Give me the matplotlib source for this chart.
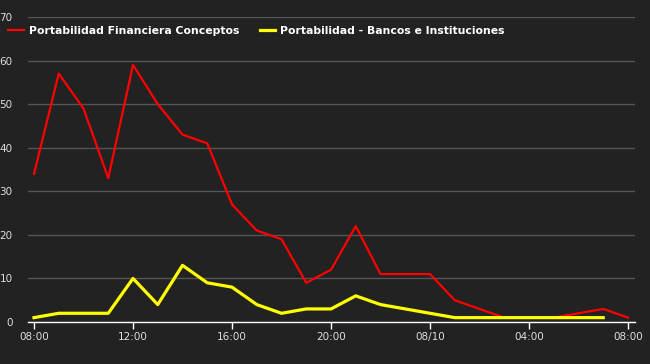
import numpy as np
import matplotlib.pyplot as plt

# hourly samples, 08:00 -> 08:00 next day
hours = np.arange(25)
conceptos = [34, 57, 49, 33, 59, 50, 43, 41, 27, 21, 19, 9, 12, 22, 11, 11, 11, 5, 3, 1, 1, 1, 2, 3, 1]
bancos = [1, 2, 2, 2, 10, 4, 13, 9, 8, 4, 2, 3, 3, 6, 4, 3, 2, 1, 1, 1, 1, 1, 1, 1]
tick_pos = [0, 4, 8, 12, 16, 20, 24]
tick_lbl = ["08:00", "12:00", "16:00", "20:00", "08/10", "04:00", "08:00"]
names = ["Portabilidad Financiera Conceptos", "Portabilidad - Bancos e Instituciones"]

bg = "#222222"
fig = plt.figure(figsize=(6.5, 3.64), dpi=100, facecolor=bg)
ax = fig.add_axes([28 / 650, 42 / 364, 607 / 650, 305 / 364], facecolor=bg)

ax.plot(hours, conceptos, color="#ff0000", lw=1.6, label=names[0], zorder=3)
ax.plot(hours[:len(bancos)], bancos, color="#ffff00", lw=2.3, label=names[1], zorder=3)

ax.set_xlim(-6 / 24.75, 601 / 24.75)
ax.set_ylim(0, 70)
ax.set_yticks(range(0, 71, 10))
ax.yaxis.grid(True, color="#555555", lw=1)
ax.set_axisbelow(True)
ax.set_xticks(tick_pos)
ax.set_xticklabels(tick_lbl)

for s in ["top", "right", "left"]:
    ax.spines[s].set_visible(False)
ax.spines["bottom"].set_color("white")
ax.spines["bottom"].set_linewidth(1)
ax.tick_params(axis="x", colors="white", length=5, width=1, labelcolor="#dddddd", labelsize=7.5, pad=2)
ax.tick_params(axis="y", length=0, labelcolor="#dddddd", labelsize=7.5, pad=11)

leg = fig.legend(loc="upper left", bbox_to_anchor=(8 / 650, 1 - 26 / 364), ncol=2, frameon=False,
                 handlelength=1.45, handletextpad=0.45, columnspacing=1.9, borderpad=0, borderaxespad=0,
                 prop={"weight": "bold", "size": 7.8})
for t in leg.get_texts():
    t.set_color("white")

fig.savefig("out.png", dpi=100, facecolor=bg)
